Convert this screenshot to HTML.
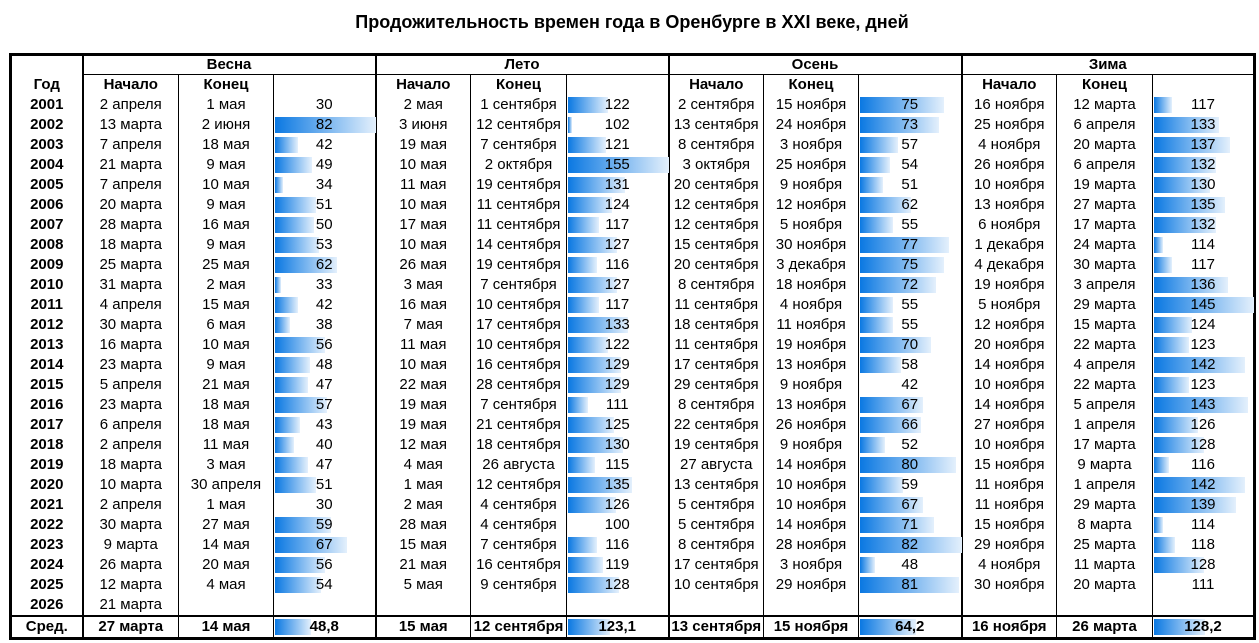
<!DOCTYPE html>
<html><head><meta charset="utf-8">
<style>
html,body{margin:0;padding:0;background:#fff;width:1259px;height:643px;overflow:hidden}
body{font-family:"Liberation Sans",Arial,sans-serif;font-size:15px;color:#000}
.title{position:absolute;left:0;top:12px;width:1264px;text-align:center;font-weight:bold;font-size:18px}
table{position:absolute;left:9px;top:53px;border-collapse:collapse;table-layout:fixed;border:3px solid #000}
td{height:20px;padding:0;text-align:center;white-space:nowrap;line-height:20px;position:relative;border-left:1px solid #000}
td.s{border-left:2px solid #000}
tr.h1 td{font-weight:bold;height:18px;line-height:18px}
tr.h1 td.sea{border-bottom:1px solid #000}
tr.h2 td{font-weight:bold;height:20px;line-height:20px}
td.y{font-weight:bold}
tr.avg td{font-weight:bold;border-top:2px solid #000;height:20px}
.b{position:absolute;left:1px;top:2px;height:16px;background:linear-gradient(to right,#0a78e2,#e4f0fc);width:calc((var(--v) - var(--mn)) / var(--rg) * 100%)}
td.n span{position:relative}
.sp{--mn:30;--rg:52}.su{--mn:100;--rg:55}.au{--mn:42;--rg:40}.wi{--mn:111;--rg:34}
</style></head><body>
<div class="title">Продожительность времен года в Оренбурге в XXI веке, дней</div>
<table>
<colgroup><col style="width:72px"><col style="width:96px"><col style="width:95px"><col style="width:102px"><col style="width:95px"><col style="width:96px"><col style="width:102px"><col style="width:95px"><col style="width:95px"><col style="width:103px"><col style="width:95px"><col style="width:96px"><col style="width:102px"></colgroup>
<tr class="h1"><td style="border-left:0"></td><td class="sea s" colspan="3">Весна</td><td class="sea s" colspan="3">Лето</td><td class="sea s" colspan="3">Осень</td><td class="sea s" colspan="3">Зима</td></tr>
<tr class="h2"><td style="border-left:0">Год</td><td class="s">Начало</td><td>Конец</td><td></td><td class="s">Начало</td><td>Конец</td><td></td><td class="s">Начало</td><td>Конец</td><td></td><td class="s">Начало</td><td>Конец</td><td></td></tr>
<tr><td class="y">2001</td><td class="s">2 апреля</td><td>1 мая</td><td class="n sp" style="--v:30"><div class="b"></div><span>30</span></td><td class="s">2 мая</td><td>1 сентября</td><td class="n su" style="--v:122"><div class="b"></div><span>122</span></td><td class="s">2 сентября</td><td>15 ноября</td><td class="n au" style="--v:75"><div class="b"></div><span>75</span></td><td class="s">16 ноября</td><td>12 марта</td><td class="n wi" style="--v:117"><div class="b"></div><span>117</span></td></tr>
<tr><td class="y">2002</td><td class="s">13 марта</td><td>2 июня</td><td class="n sp" style="--v:82"><div class="b"></div><span>82</span></td><td class="s">3 июня</td><td>12 сентября</td><td class="n su" style="--v:102"><div class="b"></div><span>102</span></td><td class="s">13 сентября</td><td>24 ноября</td><td class="n au" style="--v:73"><div class="b"></div><span>73</span></td><td class="s">25 ноября</td><td>6 апреля</td><td class="n wi" style="--v:133"><div class="b"></div><span>133</span></td></tr>
<tr><td class="y">2003</td><td class="s">7 апреля</td><td>18 мая</td><td class="n sp" style="--v:42"><div class="b"></div><span>42</span></td><td class="s">19 мая</td><td>7 сентября</td><td class="n su" style="--v:121"><div class="b"></div><span>121</span></td><td class="s">8 сентября</td><td>3 ноября</td><td class="n au" style="--v:57"><div class="b"></div><span>57</span></td><td class="s">4 ноября</td><td>20 марта</td><td class="n wi" style="--v:137"><div class="b"></div><span>137</span></td></tr>
<tr><td class="y">2004</td><td class="s">21 марта</td><td>9 мая</td><td class="n sp" style="--v:49"><div class="b"></div><span>49</span></td><td class="s">10 мая</td><td>2 октября</td><td class="n su" style="--v:155"><div class="b"></div><span>155</span></td><td class="s">3 октября</td><td>25 ноября</td><td class="n au" style="--v:54"><div class="b"></div><span>54</span></td><td class="s">26 ноября</td><td>6 апреля</td><td class="n wi" style="--v:132"><div class="b"></div><span>132</span></td></tr>
<tr><td class="y">2005</td><td class="s">7 апреля</td><td>10 мая</td><td class="n sp" style="--v:34"><div class="b"></div><span>34</span></td><td class="s">11 мая</td><td>19 сентября</td><td class="n su" style="--v:131"><div class="b"></div><span>131</span></td><td class="s">20 сентября</td><td>9 ноября</td><td class="n au" style="--v:51"><div class="b"></div><span>51</span></td><td class="s">10 ноября</td><td>19 марта</td><td class="n wi" style="--v:130"><div class="b"></div><span>130</span></td></tr>
<tr><td class="y">2006</td><td class="s">20 марта</td><td>9 мая</td><td class="n sp" style="--v:51"><div class="b"></div><span>51</span></td><td class="s">10 мая</td><td>11 сентября</td><td class="n su" style="--v:124"><div class="b"></div><span>124</span></td><td class="s">12 сентября</td><td>12 ноября</td><td class="n au" style="--v:62"><div class="b"></div><span>62</span></td><td class="s">13 ноября</td><td>27 марта</td><td class="n wi" style="--v:135"><div class="b"></div><span>135</span></td></tr>
<tr><td class="y">2007</td><td class="s">28 марта</td><td>16 мая</td><td class="n sp" style="--v:50"><div class="b"></div><span>50</span></td><td class="s">17 мая</td><td>11 сентября</td><td class="n su" style="--v:117"><div class="b"></div><span>117</span></td><td class="s">12 сентября</td><td>5 ноября</td><td class="n au" style="--v:55"><div class="b"></div><span>55</span></td><td class="s">6 ноября</td><td>17 марта</td><td class="n wi" style="--v:132"><div class="b"></div><span>132</span></td></tr>
<tr><td class="y">2008</td><td class="s">18 марта</td><td>9 мая</td><td class="n sp" style="--v:53"><div class="b"></div><span>53</span></td><td class="s">10 мая</td><td>14 сентября</td><td class="n su" style="--v:127"><div class="b"></div><span>127</span></td><td class="s">15 сентября</td><td>30 ноября</td><td class="n au" style="--v:77"><div class="b"></div><span>77</span></td><td class="s">1 декабря</td><td>24 марта</td><td class="n wi" style="--v:114"><div class="b"></div><span>114</span></td></tr>
<tr><td class="y">2009</td><td class="s">25 марта</td><td>25 мая</td><td class="n sp" style="--v:62"><div class="b"></div><span>62</span></td><td class="s">26 мая</td><td>19 сентября</td><td class="n su" style="--v:116"><div class="b"></div><span>116</span></td><td class="s">20 сентября</td><td>3 декабря</td><td class="n au" style="--v:75"><div class="b"></div><span>75</span></td><td class="s">4 декабря</td><td>30 марта</td><td class="n wi" style="--v:117"><div class="b"></div><span>117</span></td></tr>
<tr><td class="y">2010</td><td class="s">31 марта</td><td>2 мая</td><td class="n sp" style="--v:33"><div class="b"></div><span>33</span></td><td class="s">3 мая</td><td>7 сентября</td><td class="n su" style="--v:127"><div class="b"></div><span>127</span></td><td class="s">8 сентября</td><td>18 ноября</td><td class="n au" style="--v:72"><div class="b"></div><span>72</span></td><td class="s">19 ноября</td><td>3 апреля</td><td class="n wi" style="--v:136"><div class="b"></div><span>136</span></td></tr>
<tr><td class="y">2011</td><td class="s">4 апреля</td><td>15 мая</td><td class="n sp" style="--v:42"><div class="b"></div><span>42</span></td><td class="s">16 мая</td><td>10 сентября</td><td class="n su" style="--v:117"><div class="b"></div><span>117</span></td><td class="s">11 сентября</td><td>4 ноября</td><td class="n au" style="--v:55"><div class="b"></div><span>55</span></td><td class="s">5 ноября</td><td>29 марта</td><td class="n wi" style="--v:145"><div class="b"></div><span>145</span></td></tr>
<tr><td class="y">2012</td><td class="s">30 марта</td><td>6 мая</td><td class="n sp" style="--v:38"><div class="b"></div><span>38</span></td><td class="s">7 мая</td><td>17 сентября</td><td class="n su" style="--v:133"><div class="b"></div><span>133</span></td><td class="s">18 сентября</td><td>11 ноября</td><td class="n au" style="--v:55"><div class="b"></div><span>55</span></td><td class="s">12 ноября</td><td>15 марта</td><td class="n wi" style="--v:124"><div class="b"></div><span>124</span></td></tr>
<tr><td class="y">2013</td><td class="s">16 марта</td><td>10 мая</td><td class="n sp" style="--v:56"><div class="b"></div><span>56</span></td><td class="s">11 мая</td><td>10 сентября</td><td class="n su" style="--v:122"><div class="b"></div><span>122</span></td><td class="s">11 сентября</td><td>19 ноября</td><td class="n au" style="--v:70"><div class="b"></div><span>70</span></td><td class="s">20 ноября</td><td>22 марта</td><td class="n wi" style="--v:123"><div class="b"></div><span>123</span></td></tr>
<tr><td class="y">2014</td><td class="s">23 марта</td><td>9 мая</td><td class="n sp" style="--v:48"><div class="b"></div><span>48</span></td><td class="s">10 мая</td><td>16 сентября</td><td class="n su" style="--v:129"><div class="b"></div><span>129</span></td><td class="s">17 сентября</td><td>13 ноября</td><td class="n au" style="--v:58"><div class="b"></div><span>58</span></td><td class="s">14 ноября</td><td>4 апреля</td><td class="n wi" style="--v:142"><div class="b"></div><span>142</span></td></tr>
<tr><td class="y">2015</td><td class="s">5 апреля</td><td>21 мая</td><td class="n sp" style="--v:47"><div class="b"></div><span>47</span></td><td class="s">22 мая</td><td>28 сентября</td><td class="n su" style="--v:129"><div class="b"></div><span>129</span></td><td class="s">29 сентября</td><td>9 ноября</td><td class="n au" style="--v:42"><div class="b"></div><span>42</span></td><td class="s">10 ноября</td><td>22 марта</td><td class="n wi" style="--v:123"><div class="b"></div><span>123</span></td></tr>
<tr><td class="y">2016</td><td class="s">23 марта</td><td>18 мая</td><td class="n sp" style="--v:57"><div class="b"></div><span>57</span></td><td class="s">19 мая</td><td>7 сентября</td><td class="n su" style="--v:111"><div class="b"></div><span>111</span></td><td class="s">8 сентября</td><td>13 ноября</td><td class="n au" style="--v:67"><div class="b"></div><span>67</span></td><td class="s">14 ноября</td><td>5 апреля</td><td class="n wi" style="--v:143"><div class="b"></div><span>143</span></td></tr>
<tr><td class="y">2017</td><td class="s">6 апреля</td><td>18 мая</td><td class="n sp" style="--v:43"><div class="b"></div><span>43</span></td><td class="s">19 мая</td><td>21 сентября</td><td class="n su" style="--v:125"><div class="b"></div><span>125</span></td><td class="s">22 сентября</td><td>26 ноября</td><td class="n au" style="--v:66"><div class="b"></div><span>66</span></td><td class="s">27 ноября</td><td>1 апреля</td><td class="n wi" style="--v:126"><div class="b"></div><span>126</span></td></tr>
<tr><td class="y">2018</td><td class="s">2 апреля</td><td>11 мая</td><td class="n sp" style="--v:40"><div class="b"></div><span>40</span></td><td class="s">12 мая</td><td>18 сентября</td><td class="n su" style="--v:130"><div class="b"></div><span>130</span></td><td class="s">19 сентября</td><td>9 ноября</td><td class="n au" style="--v:52"><div class="b"></div><span>52</span></td><td class="s">10 ноября</td><td>17 марта</td><td class="n wi" style="--v:128"><div class="b"></div><span>128</span></td></tr>
<tr><td class="y">2019</td><td class="s">18 марта</td><td>3 мая</td><td class="n sp" style="--v:47"><div class="b"></div><span>47</span></td><td class="s">4 мая</td><td>26 августа</td><td class="n su" style="--v:115"><div class="b"></div><span>115</span></td><td class="s">27 августа</td><td>14 ноября</td><td class="n au" style="--v:80"><div class="b"></div><span>80</span></td><td class="s">15 ноября</td><td>9 марта</td><td class="n wi" style="--v:116"><div class="b"></div><span>116</span></td></tr>
<tr><td class="y">2020</td><td class="s">10 марта</td><td>30 апреля</td><td class="n sp" style="--v:51"><div class="b"></div><span>51</span></td><td class="s">1 мая</td><td>12 сентября</td><td class="n su" style="--v:135"><div class="b"></div><span>135</span></td><td class="s">13 сентября</td><td>10 ноября</td><td class="n au" style="--v:59"><div class="b"></div><span>59</span></td><td class="s">11 ноября</td><td>1 апреля</td><td class="n wi" style="--v:142"><div class="b"></div><span>142</span></td></tr>
<tr><td class="y">2021</td><td class="s">2 апреля</td><td>1 мая</td><td class="n sp" style="--v:30"><div class="b"></div><span>30</span></td><td class="s">2 мая</td><td>4 сентября</td><td class="n su" style="--v:126"><div class="b"></div><span>126</span></td><td class="s">5 сентября</td><td>10 ноября</td><td class="n au" style="--v:67"><div class="b"></div><span>67</span></td><td class="s">11 ноября</td><td>29 марта</td><td class="n wi" style="--v:139"><div class="b"></div><span>139</span></td></tr>
<tr><td class="y">2022</td><td class="s">30 марта</td><td>27 мая</td><td class="n sp" style="--v:59"><div class="b"></div><span>59</span></td><td class="s">28 мая</td><td>4 сентября</td><td class="n su" style="--v:100"><div class="b"></div><span>100</span></td><td class="s">5 сентября</td><td>14 ноября</td><td class="n au" style="--v:71"><div class="b"></div><span>71</span></td><td class="s">15 ноября</td><td>8 марта</td><td class="n wi" style="--v:114"><div class="b"></div><span>114</span></td></tr>
<tr><td class="y">2023</td><td class="s">9 марта</td><td>14 мая</td><td class="n sp" style="--v:67"><div class="b"></div><span>67</span></td><td class="s">15 мая</td><td>7 сентября</td><td class="n su" style="--v:116"><div class="b"></div><span>116</span></td><td class="s">8 сентября</td><td>28 ноября</td><td class="n au" style="--v:82"><div class="b"></div><span>82</span></td><td class="s">29 ноября</td><td>25 марта</td><td class="n wi" style="--v:118"><div class="b"></div><span>118</span></td></tr>
<tr><td class="y">2024</td><td class="s">26 марта</td><td>20 мая</td><td class="n sp" style="--v:56"><div class="b"></div><span>56</span></td><td class="s">21 мая</td><td>16 сентября</td><td class="n su" style="--v:119"><div class="b"></div><span>119</span></td><td class="s">17 сентября</td><td>3 ноября</td><td class="n au" style="--v:48"><div class="b"></div><span>48</span></td><td class="s">4 ноября</td><td>11 марта</td><td class="n wi" style="--v:128"><div class="b"></div><span>128</span></td></tr>
<tr><td class="y">2025</td><td class="s">12 марта</td><td>4 мая</td><td class="n sp" style="--v:54"><div class="b"></div><span>54</span></td><td class="s">5 мая</td><td>9 сентября</td><td class="n su" style="--v:128"><div class="b"></div><span>128</span></td><td class="s">10 сентября</td><td>29 ноября</td><td class="n au" style="--v:81"><div class="b"></div><span>81</span></td><td class="s">30 ноября</td><td>20 марта</td><td class="n wi" style="--v:111"><div class="b"></div><span>111</span></td></tr>
<tr><td class="y">2026</td><td class="s">21 марта</td><td></td><td></td><td class="s"></td><td></td><td></td><td class="s"></td><td></td><td></td><td class="s"></td><td></td><td></td></tr>
<tr class="avg"><td>Сред.</td><td class="s">27 марта</td><td>14 мая</td><td class="n sp" style="--v:48.8"><div class="b"></div><span>48,8</span></td><td class="s">15 мая</td><td>12 сентября</td><td class="n su" style="--v:123.1"><div class="b"></div><span>123,1</span></td><td class="s">13 сентября</td><td>15 ноября</td><td class="n au" style="--v:64.2"><div class="b"></div><span>64,2</span></td><td class="s">16 ноября</td><td>26 марта</td><td class="n wi" style="--v:128.2"><div class="b"></div><span>128,2</span></td></tr>
</table>
</body></html>
